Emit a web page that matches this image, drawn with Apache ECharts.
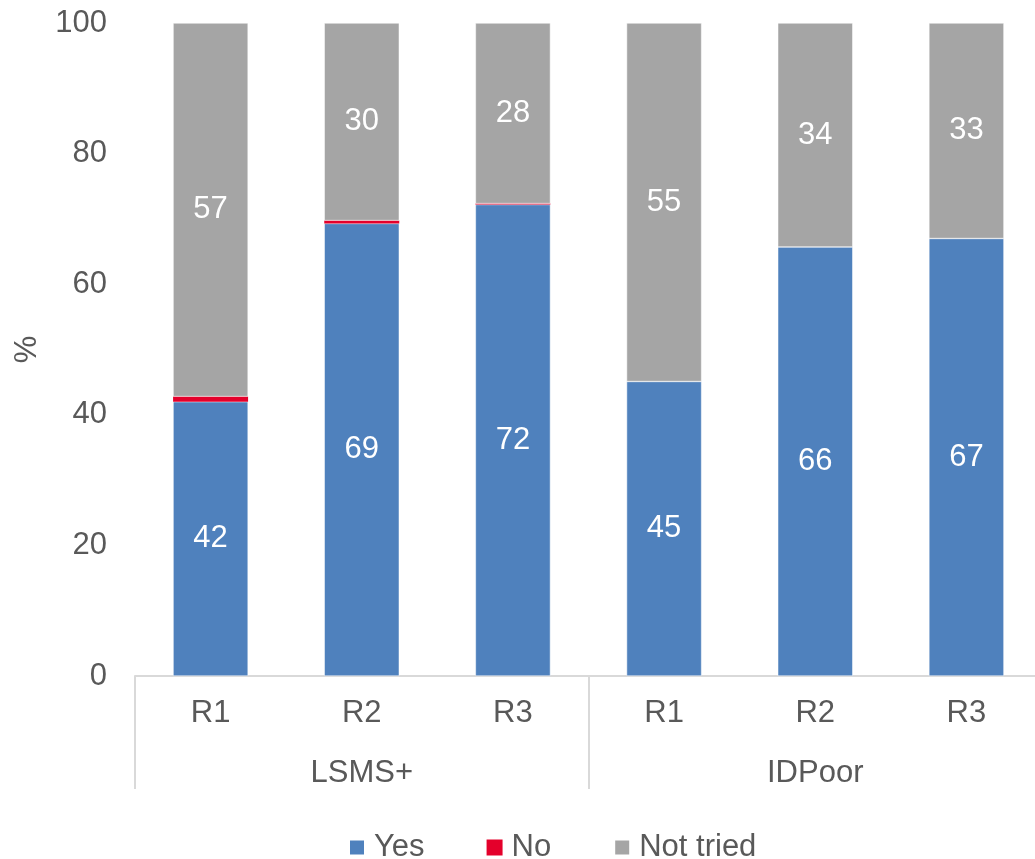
<!DOCTYPE html>
<html>
<head>
<meta charset="utf-8">
<script src="https://cdn.jsdelivr.net/npm/echarts@6/dist/echarts.min.js"></script>
<style>
  html, body { margin: 0; padding: 0; background: #fff; }
  #chart { width: 1035px; height: 859px; }
</style>
</head>
<body>
<div id="chart"></div>
<script>
// data
const rounds = ['R1', 'R2', 'R3', 'R1', 'R2', 'R3'];
const groups = ['LSMS+', 'IDPoor'];
const yesValues = [42, 69.3, 72.2, 45.1, 65.7, 67.0];
const noValues = [0.8, 0.45, 0.15, 0, 0, 0];
const notTriedValues = [57.2, 30.25, 27.65, 54.9, 34.3, 33];
const yTicks = [0, 20, 40, 60, 80, 100];

const textColor = '#595959';
const lineColor = '#d9d9d9';
const font = 'Liberation Sans, Arial, sans-serif';
const fs = 31;

const chart = echarts.init(document.getElementById('chart'));

const segLabel = {
  show: true,
  position: 'inside',
  color: '#fff',
  fontSize: fs,
  fontFamily: font,
  formatter: p => Math.round(p.value)
};

chart.setOption({
  animation: false,
  grid: { left: 135, right: -7, top: 23, bottom: 183, outerBoundsMode: 'none' },
  legend: {
    top: 827,
    left: 343,
    icon: 'rect',
    itemWidth: 16,
    itemHeight: 16,
    itemGap: 62,
    textStyle: { color: textColor, fontSize: fs, fontFamily: font, padding: [0, 0, 0, 4] },
    data: ['Yes', 'No', 'Not tried']
  },
  xAxis: [
    {
      type: 'category',
      data: rounds,
      axisLine: { lineStyle: { color: lineColor, width: 2 } },
      axisTick: { show: false },
      axisLabel: { color: textColor, fontSize: fs, fontFamily: font, margin: 22 }
    },
    {
      type: 'category',
      data: groups,
      position: 'bottom',
      axisLine: { show: false },
      axisTick: { show: true, length: 113, lineStyle: { color: lineColor, width: 2 } },
      axisLabel: { color: textColor, fontSize: fs, fontFamily: font, margin: 82 }
    }
  ],
  yAxis: {
    type: 'value',
    min: yTicks[0],
    max: yTicks[yTicks.length - 1],
    interval: 20,
    name: '%',
    nameLocation: 'middle',
    nameRotate: 90,
    nameGap: 92,
    nameTextStyle: { color: textColor, fontSize: fs, fontFamily: font },
    axisLine: { show: false },
    axisTick: { show: false },
    splitLine: { show: false },
    axisLabel: { color: textColor, fontSize: fs, fontFamily: font, margin: 28 }
  },
  series: [
    {
      name: 'Yes',
      type: 'bar',
      stack: 'total',
      barWidth: 75,
      data: yesValues,
      itemStyle: { color: '#4f81bd', borderColor: '#fff', borderWidth: 0.5 },
      label: segLabel
    },
    {
      name: 'No',
      type: 'bar',
      stack: 'total',
      barWidth: 75,
      data: noValues,
      itemStyle: { color: '#e4002b' }
    },
    {
      name: 'Not tried',
      type: 'bar',
      stack: 'total',
      barWidth: 75,
      data: notTriedValues,
      itemStyle: { color: '#a5a5a5', borderColor: '#fff', borderWidth: 0.5 },
      label: segLabel
    }
  ]
});
</script>
</body>
</html>
